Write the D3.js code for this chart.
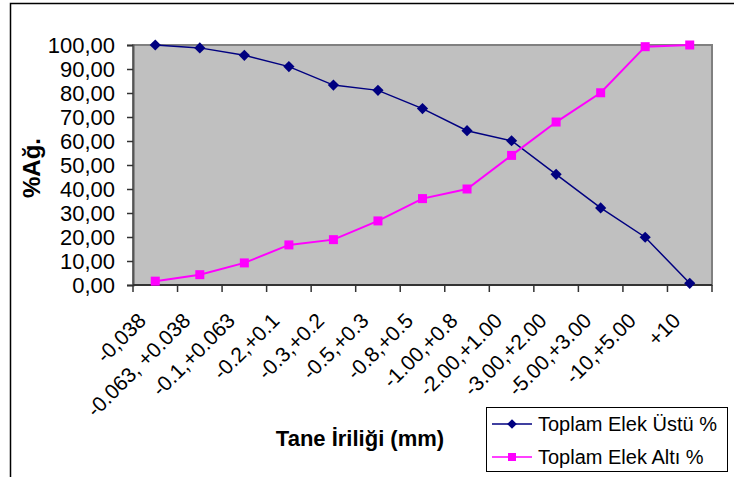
<!DOCTYPE html>
<html>
<head>
<meta charset="utf-8">
<script src="https://cdn.jsdelivr.net/npm/d3@7"></script>
<style>
  body { margin: 0; background: #fff; }
  svg { display: block; font-family: Arial, "Liberation Sans", sans-serif; }
</style>
</head>
<body>
<div id="chart"></div>
<script>
const categories = ['-0,038', '-0.063, +0.038', '-0.1,+0.063', '-0.2,+0.1', '-0.3,+0.2', '-0.5,+0.3',
    '-0.8,+0.5', '-1.00,+0.8', '-2.00,+1.00', '-3.00,+2.00', '-5.00,+3.00', '-10,+5.00', '+10'];
const ustu = [100, 98.8, 95.7, 91.0, 83.3, 81.1, 73.5, 64.3, 60.1, 46.1, 32.1, 19.9, 0.7];
const alti = [1.6, 4.3, 9.2, 16.7, 18.9, 26.7, 36.0, 40.0, 54.0, 67.9, 80.1, 99.3, 100];
const yTicks = [0, 10, 20, 30, 40, 50, 60, 70, 80, 90, 100];

const width = 734;
const height = 477;
const plot = { left: 133, top: 45, right: 712, bottom: 285 };

const svg = d3.select('#chart')
    .append('svg')
    .attr('width', width)
    .attr('height', height);

// outer chart frame (runs off the right and bottom edges)
svg.append('rect')
    .attr('x', 10.5).attr('y', 3.5)
    .attr('width', 760).attr('height', 520)
    .attr('fill', '#fff')
    .attr('stroke', '#000')
    .attr('stroke-width', 1.5);

const x = d3.scaleBand().domain(categories).range([plot.left, plot.right]).padding(0);
const y = d3.scaleLinear().domain([0, 100]).range([plot.bottom, plot.top]);
const cx = d => x(d) + x.bandwidth() / 2;

const fmt = d3.formatLocale({ decimal: ',', thousands: '.', grouping: [3], currency: ['', ''] }).format('.2f');

// plot area
svg.append('rect')
    .attr('x', plot.left).attr('y', plot.top)
    .attr('width', plot.right - plot.left).attr('height', plot.bottom - plot.top)
    .attr('fill', '#c0c0c0')
    .attr('stroke', '#808080')
    .attr('stroke-width', 2);

// y axis
const yAxis = svg.append('g')
    .attr('transform', `translate(${plot.left},0)`)
    .call(d3.axisLeft(y).tickValues(yTicks).tickFormat(fmt).tickSize(6).tickPadding(12));
yAxis.select('.domain').attr('stroke', '#555').attr('stroke-width', 2);
yAxis.selectAll('.tick line').attr('stroke', '#333').attr('stroke-width', 1.5);
yAxis.selectAll('.tick text').attr('font-size', 22).attr('fill', '#000')
    .attr('font-family', 'Arial, "Liberation Sans", sans-serif');

// x axis: ticks between categories
const xg = svg.append('g');
xg.append('line')
    .attr('x1', plot.left).attr('x2', plot.right)
    .attr('y1', plot.bottom).attr('y2', plot.bottom)
    .attr('stroke', '#333').attr('stroke-width', 2);
const bounds = categories.map(d => x(d)).concat([plot.right]);
xg.selectAll('.xtick')
    .data(bounds)
    .enter()
    .append('line')
    .attr('class', 'xtick')
    .attr('x1', d => d).attr('x2', d => d)
    .attr('y1', plot.bottom).attr('y2', plot.bottom + 7)
    .attr('stroke', '#333').attr('stroke-width', 1.5);
xg.selectAll('.xlabel')
    .data(categories)
    .enter()
    .append('text')
    .attr('class', 'xlabel')
    .attr('transform', d => `translate(${cx(d) - 8},${plot.bottom + 37}) rotate(-45)`)
    .attr('text-anchor', 'end')
    .attr('font-size', 21)
    .text(d => d);

// axis titles
svg.append('text')
    .attr('x', 360).attr('y', 446)
    .attr('text-anchor', 'middle')
    .attr('font-size', 22)
    .attr('font-weight', 'bold')
    .text('Tane İriliği (mm)');
svg.append('text')
    .attr('transform', 'translate(40,168) rotate(-90)')
    .attr('text-anchor', 'middle')
    .attr('font-size', 24)
    .attr('font-weight', 'bold')
    .text('%Ağ.');

// series
const line = d3.line().x((d, i) => cx(categories[i])).y(d => y(d));
const diamond = d3.symbol().type(d3.symbolDiamond2).size(80);

svg.append('path')
    .datum(ustu)
    .attr('d', line)
    .attr('fill', 'none')
    .attr('stroke', '#000080')
    .attr('stroke-width', 1.5);
svg.append('path')
    .datum(alti)
    .attr('d', line)
    .attr('fill', 'none')
    .attr('stroke', '#ff00ff')
    .attr('stroke-width', 2);

svg.selectAll('.m-ustu')
    .data(ustu)
    .enter()
    .append('path')
    .attr('class', 'm-ustu')
    .attr('d', diamond)
    .attr('transform', (d, i) => `translate(${cx(categories[i])},${y(d)})`)
    .attr('fill', '#000080');
svg.selectAll('.m-alti')
    .data(alti)
    .enter()
    .append('rect')
    .attr('class', 'm-alti')
    .attr('x', (d, i) => cx(categories[i]) - 4.5)
    .attr('y', d => y(d) - 4.5)
    .attr('width', 9).attr('height', 9)
    .attr('fill', '#ff00ff');

// legend
const legend = svg.append('g').attr('transform', 'translate(486,407)');
legend.append('rect')
    .attr('x', 0.5).attr('y', 0.5)
    .attr('width', 241).attr('height', 64)
    .attr('fill', '#fff').attr('stroke', '#000');
const items = [
    { name: 'Toplam Elek Üstü %', color: '#000080', shape: 'diamond' },
    { name: 'Toplam Elek Altı %', color: '#ff00ff', shape: 'square' },
];
const rows = legend.selectAll('.item')
    .data(items)
    .enter()
    .append('g')
    .attr('transform', (d, i) => `translate(0,${17 + i * 33})`);
rows.append('line')
    .attr('x1', 6).attr('x2', 46)
    .attr('stroke', d => d.color).attr('stroke-width', 1.5);
rows.filter(d => d.shape === 'diamond').append('path')
    .attr('d', d3.symbol().type(d3.symbolDiamond2).size(60))
    .attr('transform', 'translate(26,0)')
    .attr('fill', d => d.color);
rows.filter(d => d.shape === 'square').append('rect')
    .attr('x', 22).attr('y', -4).attr('width', 8).attr('height', 8)
    .attr('fill', d => d.color);
rows.append('text')
    .attr('x', 52).attr('y', 7)
    .attr('font-size', 20)
    .text(d => d.name);
</script>
</body>
</html>
